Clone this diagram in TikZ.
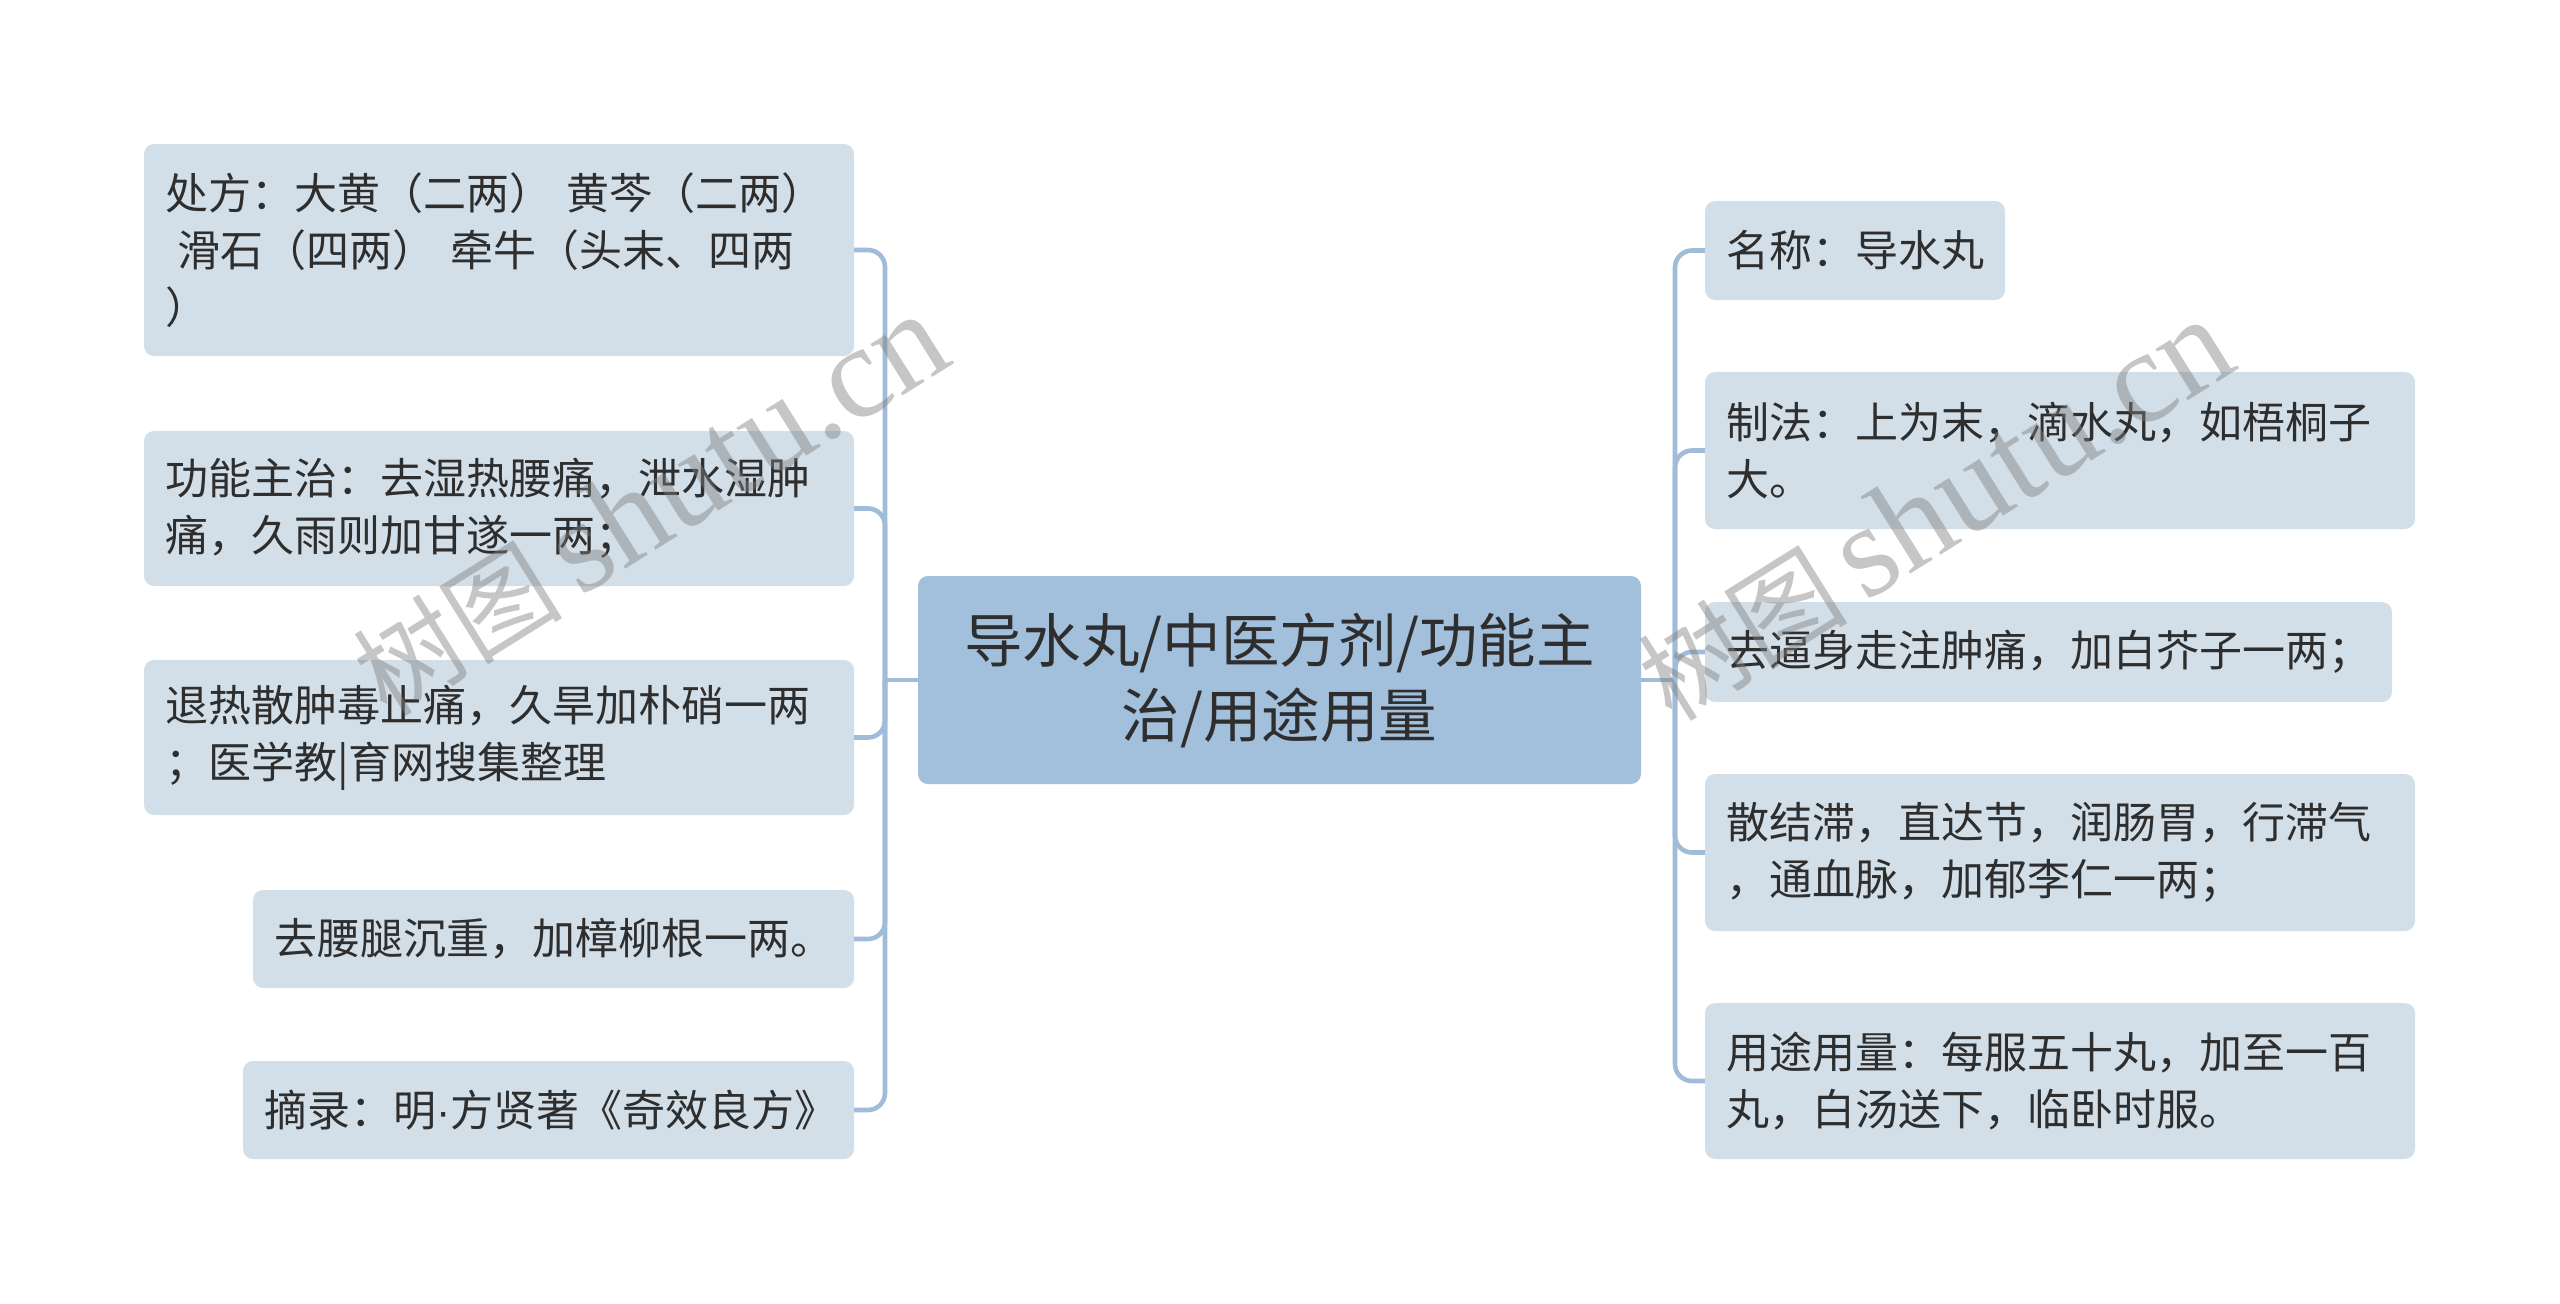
\documentclass[tikz,border=0pt]{standalone}
\usepackage{fontspec}
\newfontfamily\cjk{Noto Sans CJK SC}
\newfontfamily\wmlatin{Liberation Serif}
\newfontfamily\latsans{Liberation Sans}
\definecolor{leaffill}{HTML}{D3DFE8}
\definecolor{rootfill}{HTML}{A2BFDB}
\definecolor{linec}{HTML}{A0BCD8}
\definecolor{txt}{HTML}{2E2E2E}
\tikzset{
  leaf/.style={draw=none, fill=leaffill, rounded corners=10pt, inner xsep=21pt, inner ysep=0pt,
    align=left, text=txt, font=\cjk\fontsize{43}{57}\selectfont},
  rootbox/.style={draw=none, fill=rootfill, rounded corners=10pt, inner sep=0pt,
    align=center, text=txt, font=\cjk\fontsize{58.5}{75}\selectfont},
  conn/.style={draw=linec, line width=4.6pt, rounded corners=17pt},
  wm/.style={text=black!50, opacity=0.45, rotate=32, inner sep=0pt}
}
\begin{document}
\begin{tikzpicture}[x=1pt, y=-1pt]
\useasboundingbox (0,0) rectangle (2560,1304);
% root
\node[rootbox, minimum width=723pt, minimum height=208pt] (root) at (1279.5,680) {导水丸/中医方剂/功能主\\治/用途用量};
% left leaves
\node[leaf, text width=668pt, minimum height=212pt] (l1) at (499,250) {处方：大黄（二两） 黄芩（二两）\\\hspace*{0.3em}滑石（四两） 牵牛（头末、四两\\）};
\node[leaf, text width=668pt, minimum height=155pt] (l2) at (499,508.5) {功能主治：去湿热腰痛，泄水湿肿\\痛，久雨则加甘遂一两；};
\node[leaf, text width=668pt, minimum height=155pt] (l3) at (499,737.5) {退热散肿毒止痛，久旱加朴硝一两\\；医学教|育网搜集整理};
\node[leaf, text width=559pt, minimum height=98pt] (l4) at (553.5,939) {去腰腿沉重，加樟柳根一两。};
\node[leaf, text width=569pt, minimum height=98pt] (l5) at (548.5,1110) {摘录：明{\latsans ·}方贤著《奇效良方》};
% right leaves
\node[leaf, text width=258pt, minimum height=99pt] (r1) at (1855,250.5) {名称：导水丸};
\node[leaf, text width=668pt, minimum height=157pt] (r2) at (2060,450.5) {制法：上为末，滴水丸，如梧桐子\\大。};
\node[leaf, text width=645pt, minimum height=100pt] (r3) at (2048.5,652) {去逼身走注肿痛，加白芥子一两；};
\node[leaf, text width=668pt, minimum height=157pt] (r4) at (2060,852.5) {散结滞，直达节，润肠胃，行滞气\\，通血脉，加郁李仁一两；};
\node[leaf, text width=668pt, minimum height=156pt] (r5) at (2060,1081) {用途用量：每服五十丸，加至一百\\丸，白汤送下，临卧时服。};
% junctions
\coordinate (lj) at (885,680);
\coordinate (rj) at (1675,680);
\draw[conn] (root.west) -- (lj);
\draw[conn] (root.east) -- (rj);
\foreach \n in {l1,l2,l3,l4,l5} {\draw[conn] (lj) |- (\n.east);}
\foreach \n in {r1,r2,r3,r4,r5} {\draw[conn] (rj) |- (\n.west);}
% watermarks
\node[wm] (wm1) at (650,505) {\cjk\fontsize{105}{105}\selectfont 树图\,\wmlatin\fontsize{132}{132}\selectfont shutu.cn};
\node[wm] (wm2) at (1935,510) {\cjk\fontsize{105}{105}\selectfont 树图\,\wmlatin\fontsize{132}{132}\selectfont shutu.cn};
\end{tikzpicture}
\end{document}
